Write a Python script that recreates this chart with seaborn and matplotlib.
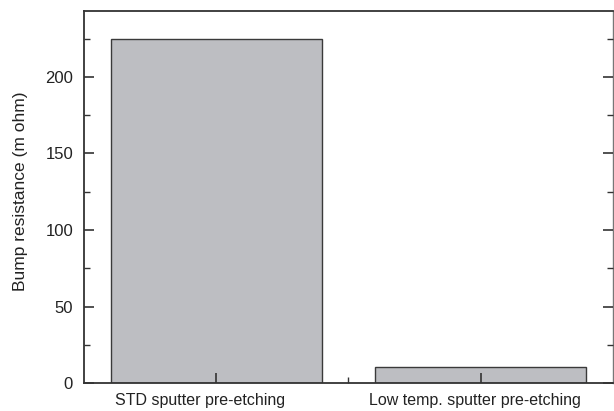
import matplotlib
matplotlib.use("Agg")
import matplotlib.pyplot as plt
import matplotlib.transforms as mtransforms
import seaborn as sns
import pandas as pd
from matplotlib.ticker import MultipleLocator, FixedLocator

sns.set_theme(style="ticks")
plt.rcParams["font.family"] = ["Liberation Sans", "DejaVu Sans"]

# Dados
categorias = ["STD sputter pre-etching", "Low temp. sputter pre-etching"]
resistencia = [225, 10.5]

df = pd.DataFrame({"processo": categorias, "resistencia": resistencia})

fig = plt.figure(figsize=(6.14, 4.11), dpi=100)
ax = fig.add_axes([0.137, 0.068, 0.861, 0.905])

sns.barplot(data=df, x="processo", y="resistencia", ax=ax, width=0.8,
            color="#bdbec2", saturation=1, edgecolor="#3a3a3a", linewidth=1.0)

ax.set_axisbelow(False)  # ticks por cima das barras
ax.set_xlim(-0.5, 1.5)
ax.set_ylim(0, 243)
ax.set_xlabel("")
ax.set_ylabel("Bump resistance (m ohm)", fontsize=12.5, color="#222222")
ax.yaxis.set_label_coords(-0.106, 0.517)

ax.yaxis.set_major_locator(MultipleLocator(50))
ax.yaxis.set_minor_locator(MultipleLocator(25))
ax.xaxis.set_minor_locator(FixedLocator([0.5]))

ax.tick_params(axis="both", which="both", direction="in", colors="#333333",
               labelcolor="#222222")
ax.tick_params(axis="y", labelsize=12)
ax.tick_params(axis="x", labelsize=11.5)
ax.tick_params(axis="y", which="both", right=True)
ax.tick_params(axis="y", which="major", length=7, width=1.2, pad=8)
ax.tick_params(axis="y", which="minor", length=4, width=1.0)
ax.tick_params(axis="x", which="major", length=7, width=1.2, pad=7)
ax.tick_params(axis="x", which="minor", length=4, width=1.0)

# No original os rótulos do eixo x ficam um pouco à esquerda dos ticks
deslocamentos = [-0.16, -0.055]
for rotulo, dx in zip(ax.get_xticklabels(), deslocamentos):
    rotulo.set_transform(rotulo.get_transform()
                         + mtransforms.ScaledTranslation(dx, 0, fig.dpi_scale_trans))

for lado in ["left", "bottom", "top"]:
    ax.spines[lado].set_color("#333333")
    ax.spines[lado].set_linewidth(1.3)
ax.spines["right"].set_color("#777777")
ax.spines["right"].set_linewidth(1.0)

plt.savefig("out.png", dpi=100)
